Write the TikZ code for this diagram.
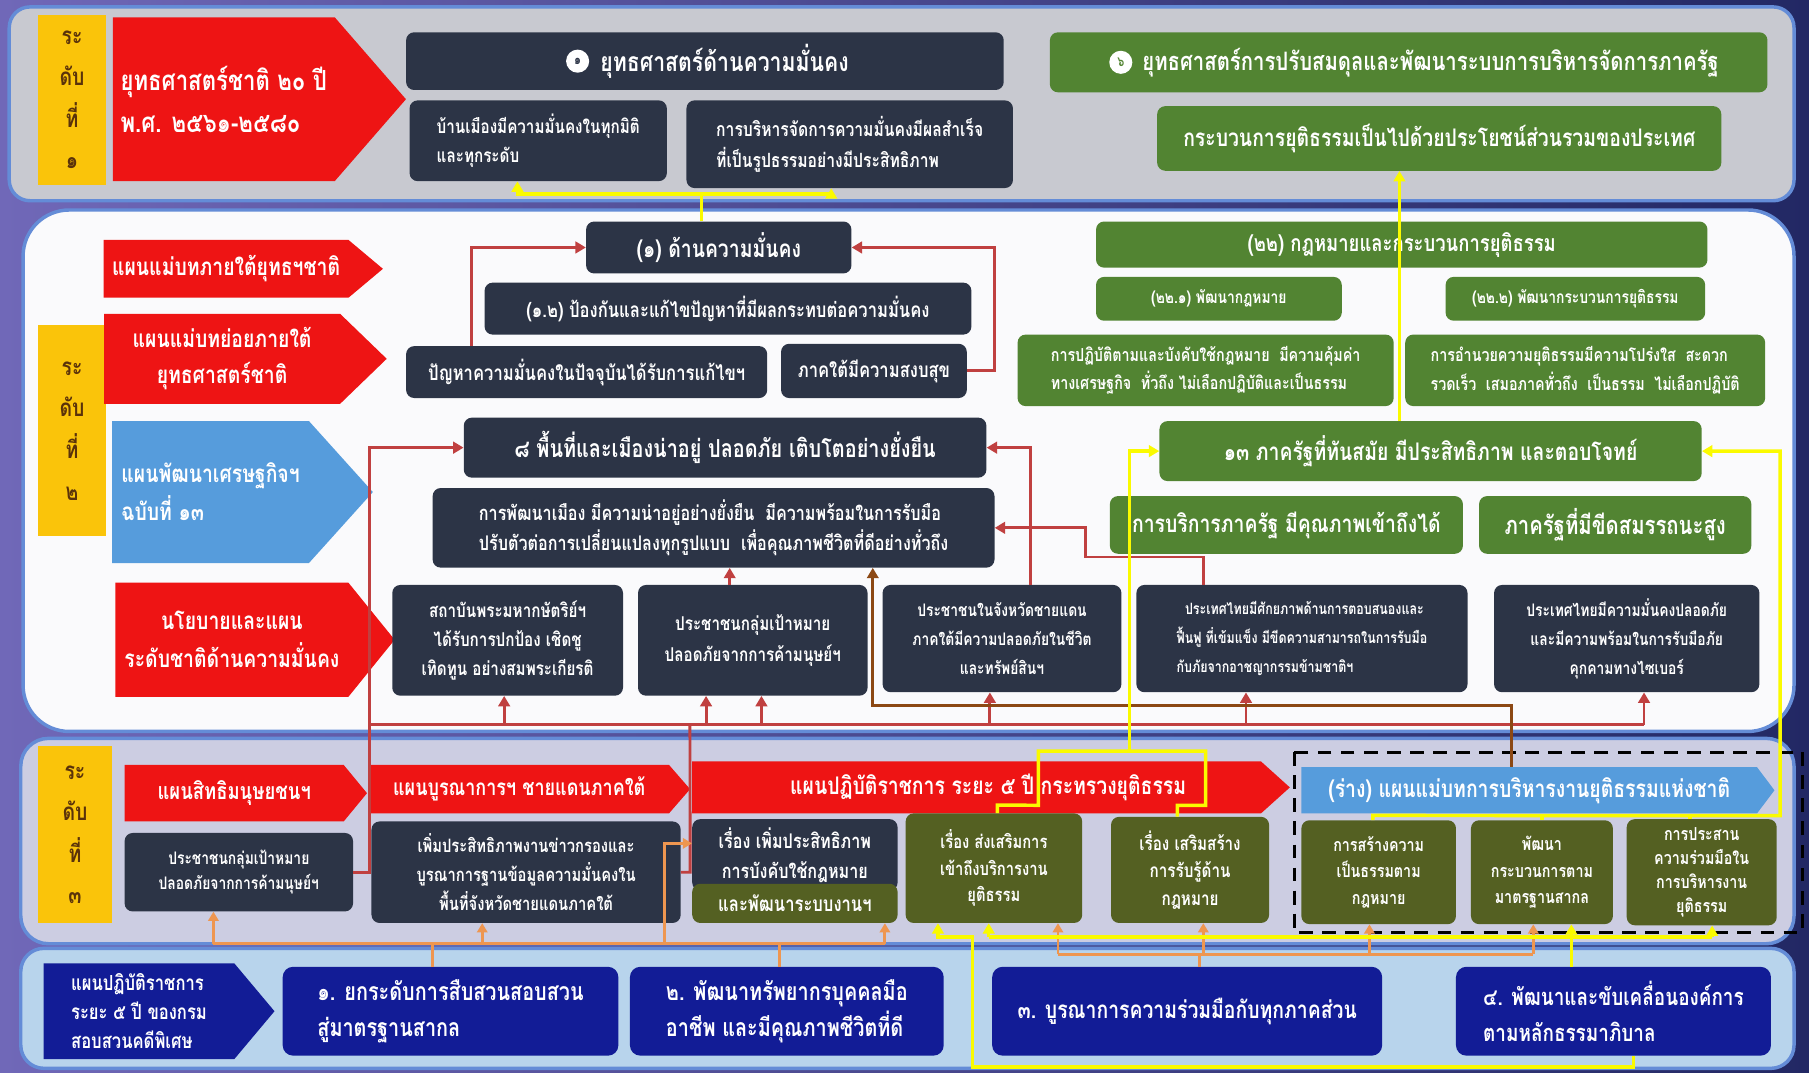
\documentclass[tikz,border=0pt]{standalone}
\usepackage{fontspec}
\setmainfont{Loma}[Script=Thai, FakeStretch=0.8]
\usetikzlibrary{shapes.symbols, arrows.meta, positioning}

\definecolor{bgleft}{RGB}{112,104,184}
\definecolor{bgright}{RGB}{34,40,100}
\definecolor{panelgray}{RGB}{200,201,208}
\definecolor{panelwhite}{RGB}{250,250,252}
\definecolor{panellav}{RGB}{204,205,226}
\definecolor{panelblue}{RGB}{184,212,236}
\definecolor{panelrim}{RGB}{100,140,215}
\definecolor{boxdark}{RGB}{44,52,70}
\definecolor{boxgreen}{RGB}{82,132,50}
\definecolor{boxolive}{RGB}{84,96,34}
\definecolor{arrowred}{RGB}{238,20,20}
\definecolor{arrowsky}{RGB}{86,156,220}
\definecolor{boxnavy}{RGB}{18,28,150}
\definecolor{labelgold}{RGB}{250,196,10}
\definecolor{labeltext}{RGB}{90,50,10}
\definecolor{linered}{RGB}{192,64,64}
\definecolor{linebrown}{RGB}{140,72,20}
\definecolor{lineorange}{RGB}{238,150,80}
\definecolor{lineyellow}{RGB}{250,250,0}

\newcommand{\tsize}[2]{\fontsize{#1}{#2}\selectfont\bfseries}

\tikzset{
  panel/.style={draw=panelrim, line width=3pt},
  darkbox/.style={rounded corners=7pt, fill=boxdark, text=white, align=center, inner sep=2pt},
  greenbox/.style={darkbox, fill=boxgreen},
  olivebox/.style={darkbox, fill=boxolive},
  navybox/.style={darkbox, fill=boxnavy, rounded corners=9pt},
  redtag/.style={signal, signal to=east, signal pointer angle=90, fill=arrowred, text=white, align=center, inner sep=2pt},
  skytag/.style={redtag, fill=arrowsky},
  levelbar/.style={fill=labelgold, text=labeltext, align=center, font=\tsize{21}{36}},
  iconball/.style={circle, fill=white, text=boxdark, inner sep=0pt, minimum size=20pt, font=\tsize{12}{12}},
  rline/.style={linered, line width=2.5pt},
  rarrow/.style={rline, -{Triangle[length=9pt,width=10pt]}},
  barrow/.style={linebrown, line width=2.5pt, -{Triangle[length=9pt,width=10pt]}},
  oline/.style={lineorange, line width=2.5pt},
  oarrow/.style={oline, -{Triangle[length=8pt,width=9pt]}},
  yline/.style={lineyellow, line width=3pt},
  yarrow/.style={yline, -{Triangle[length=9pt,width=10pt]}}
}

\begin{document}
\begin{tikzpicture}[x=1pt,y=-1pt]
\useasboundingbox (0,0) rectangle (1568,930);

% Background and panels
\shade[left color=bgleft, right color=bgright] (0,0) rectangle (1568,930);
\draw[panel, fill=panelgray, rounded corners=18pt] (8,6) rectangle (1555,174);
\draw[panel, fill=panelwhite, rounded corners=40pt] (20,182) rectangle (1555,634);
\draw[panel, fill=panellav, rounded corners=24pt] (18,640) rectangle (1555,818);
\draw[panel, fill=panelblue, rounded corners=20pt] (18,822) rectangle (1555,926);

% Level 1
\node[levelbar, minimum width=59, minimum height=147] (lvA) at (62.5,86.5) {ระ\\ดับ\\ที่\\๑};
\node[redtag, signal pointer angle=98, minimum width=254, minimum height=142, align=left, font=\tsize{24}{36}] (nat20) at (194,86) {ยุทธศาสตร์ชาติ ๒๐ ปี\\พ.ศ. ๒๕๖๑-๒๕๘๐};
\node[darkbox, minimum width=518, minimum height=50] (secT) at (611,53) {};
\node[text=white, font=\tsize{23}{24}] (secTt) at (628,53) {ยุทธศาสตร์ด้านความมั่นคง};
\node[iconball, left=6pt of secTt] (ic1) {๑};
\node[darkbox, minimum width=223, minimum height=70, align=left, font=\tsize{16.5}{25}] (secA) at (466.5,122) {บ้านเมืองมีความมั่นคงในทุกมิติ\\และทุกระดับ};
\node[darkbox, minimum width=283, minimum height=76, align=left, font=\tsize{17}{27}] (secB) at (736.5,125) {การบริหารจัดการความมั่นคงมีผลสำเร็จ\\ที่เป็นรูปธรรมอย่างมีประสิทธิภาพ};
\node[greenbox, minimum width=622, minimum height=52] (govT) at (1221,54) {};
\node[text=white, font=\tsize{22}{24}] (govTt) at (1240,54) {ยุทธศาสตร์การปรับสมดุลและพัฒนาระบบการบริหารจัดการภาครัฐ};
\node[iconball, text=boxgreen, left=5pt of govTt] (ic6) {๖};
\node[greenbox, minimum width=489, minimum height=56, font=\tsize{21}{24}] (govA) at (1247.5,120) {กระบวนการยุติธรรมเป็นไปด้วยประโยชน์ส่วนรวมของประเทศ};

% Level 2
\node[levelbar, minimum width=59, minimum height=183] (lvB) at (62.5,373.5) {ระ\\ดับ\\ที่\\๒};
\node[redtag, signal pointer angle=80, minimum width=242, minimum height=50, font=\tsize{21}{28}] (mp1) at (196,233) {แผนแม่บทภายใต้ยุทธฯชาติ};
\node[redtag, signal pointer angle=88, minimum width=245, minimum height=78, font=\tsize{21}{31}] (mp2) at (192.5,311) {แผนแม่บทย่อยภายใต้\\ยุทธศาสตร์ชาติ};
\node[skytag, signal pointer angle=96, minimum width=226, minimum height=123, align=left, font=\tsize{21}{33}] (nesdp) at (182.5,426.5) {แผนพัฒนาเศรษฐกิจฯ\\ฉบับที่ ๑๓};
\node[redtag, signal pointer angle=102, minimum width=242, minimum height=99, font=\tsize{21}{33}] (nsp) at (201,554.5) {นโยบายและแผน\\ระดับชาติด้านความมั่นคง};

\node[darkbox, minimum width=230, minimum height=45, font=\tsize{21}{24}] (sec1) at (623,214.5) {(๑) ด้านความมั่นคง};
\node[darkbox, minimum width=422, minimum height=45, font=\tsize{18}{24}] (sec12) at (631,267.5) {(๑.๒) ป้องกันและแก้ไขปัญหาที่มีผลกระทบต่อความมั่นคง};
\node[darkbox, minimum width=313, minimum height=45, font=\tsize{18}{24}] (secP) at (508.5,322.5) {ปัญหาความมั่นคงในปัจจุบันได้รับการแก้ไขฯ};
\node[darkbox, minimum width=161, minimum height=47, font=\tsize{18}{24}] (secS) at (757.5,321.5) {ภาคใต้มีความสงบสุข};
\node[darkbox, minimum width=453, minimum height=52, font=\tsize{21.5}{24}] (ms8) at (628.5,388) {๘ พื้นที่และเมืองน่าอยู่ ปลอดภัย เติบโตอย่างยั่งยืน};
\node[darkbox, minimum width=487, minimum height=69, align=left, font=\tsize{17.5}{26}] (ms8a) at (618.5,457.5) {การพัฒนาเมือง มีความน่าอยู่อย่างยั่งยืน\ \ มีความพร้อมในการรับมือ\\ปรับตัวต่อการเปลี่ยนแปลงทุกรูปแบบ\ \ เพื่อคุณภาพชีวิตที่ดีอย่างทั่วถึง};

\node[darkbox, minimum width=200, minimum height=96, font=\tsize{16.5}{25}] (tA) at (440,555) {สถาบันพระมหากษัตริย์ฯ\\ได้รับการปกป้อง เชิดชู\\เทิดทูน อย่างสมพระเกียรติ};
\node[darkbox, minimum width=199, minimum height=96, font=\tsize{16.5}{27}] (tB) at (652.5,555) {ประชาชนกลุ่มเป้าหมาย\\ปลอดภัยจากการค้ามนุษย์ฯ};
\node[darkbox, minimum width=207, minimum height=93, font=\tsize{15}{25}] (tC) at (868.5,553.5) {ประชาชนในจังหวัดชายแดน\\ภาคใต้มีความปลอดภัยในชีวิต\\และทรัพย์สินฯ};
\node[darkbox, minimum width=287, minimum height=93, align=left, font=\tsize{13.5}{25}] (tD) at (1128.5,553.5) {\ \ ประเทศไทยมีศักยภาพด้านการตอบสนองและ\\ฟื้นฟู ที่เข้มแข็ง มีขีดความสามารถในการรับมือ\\กับภัยจากอาชญากรรมข้ามชาติฯ};
\node[darkbox, minimum width=230, minimum height=93, font=\tsize{15}{25}] (tE) at (1410,553.5) {ประเทศไทยมีความมั่นคงปลอดภัย\\และมีความพร้อมในการรับมือภัย\\คุกคามทางไซเบอร์};

\node[greenbox, minimum width=530, minimum height=40, font=\tsize{20}{24}] (law22) at (1215,212) {(๒๒) กฎหมายและกระบวนการยุติธรรม};
\node[greenbox, minimum width=213, minimum height=38, font=\tsize{15}{24}] (law221) at (1056.5,259) {(๒๒.๑) พัฒนากฎหมาย};
\node[greenbox, minimum width=225, minimum height=38, font=\tsize{15}{24}] (law222) at (1365.5,259) {(๒๒.๒) พัฒนากระบวนการยุติธรรม};
\node[greenbox, minimum width=326, minimum height=62, align=left, font=\tsize{15.5}{25}] (lawA) at (1045,321) {การปฏิบัติตามและบังคับใช้กฎหมาย\ \ มีความคุ้มค่า\\ทางเศรษฐกิจ\ \ ทั่วถึง ไม่เลือกปฏิบัติและเป็นธรรม};
\node[greenbox, minimum width=312, minimum height=62, align=left, font=\tsize{15.5}{25}] (lawB) at (1374,321) {การอำนวยความยุติธรรมมีความโปร่งใส\ \ สะดวก\\รวดเร็ว\ \ เสมอภาคทั่วถึง\ \ เป็นธรรม\ \ ไม่เลือกปฏิบัติ};
\node[greenbox, minimum width=470, minimum height=52, font=\tsize{21}{24}] (ps13) at (1240,391) {๑๓ ภาครัฐที่ทันสมัย มีประสิทธิภาพ และตอบโจทย์};
\node[greenbox, minimum width=306, minimum height=50, font=\tsize{21}{24}] (ps13a) at (1115,455) {การบริการภาครัฐ มีคุณภาพเข้าถึงได้};
\node[greenbox, minimum width=236, minimum height=50, font=\tsize{22}{24}] (ps13b) at (1400,455) {ภาครัฐที่มีขีดสมรรถนะสูง};

% Level 3
\node[levelbar, minimum width=64, minimum height=153] (lvC) at (65,723.5) {ระ\\ดับ\\ที่\\๓};
\node[redtag, signal pointer angle=101, minimum width=210, minimum height=49, font=\tsize{20}{24}] (hr) at (203,687.5) {แผนสิทธิมนุษยชนฯ};
\node[redtag, signal pointer angle=98, minimum width=278, minimum height=42, font=\tsize{19.5}{24}] (sb) at (450,684) {แผนบูรณาการฯ ชายแดนภาคใต้};
\node[redtag, signal pointer angle=84, minimum width=518, minimum height=45, font=\tsize{21}{24}] (moj) at (846.5,682.5) {\hspace{20pt}แผนปฏิบัติราชการ ระยะ ๕ ปี กระทรวงยุติธรรม};
\node[skytag, signal pointer angle=106, minimum width=410, minimum height=40, font=\tsize{21}{24}] (draft) at (1325.5,685) {(ร่าง) แผนแม่บทการบริหารงานยุติธรรมแห่งชาติ};
\draw[black, line width=2.5pt, dash pattern=on 12pt off 8pt] (1122,652) rectangle (1562,808);

\node[darkbox, minimum width=198, minimum height=68, font=\tsize{15}{22}] (ha) at (207,756) {ประชาชนกลุ่มเป้าหมาย\\ปลอดภัยจากการค้ามนุษย์ฯ};
\node[darkbox, minimum width=268, minimum height=88, font=\tsize{16}{25}] (hb) at (456,756) {เพิ่มประสิทธิภาพงานข่าวกรองและ\\บูรณาการฐานข้อมูลความมั่นคงใน\\พื้นที่จังหวัดชายแดนภาคใต้};
\node[darkbox, minimum width=178, minimum height=62, font=\tsize{17.5}{26}] (hc) at (689,741) {เรื่อง เพิ่มประสิทธิภาพ\\การบังคับใช้กฎหมาย};
\node[olivebox, minimum width=178, minimum height=34, font=\tsize{18}{24}] (hc2) at (689,783) {และพัฒนาระบบงานฯ};
\node[olivebox, minimum width=153, minimum height=95, font=\tsize{16}{23}] (hd) at (861.5,752.5) {เรื่อง ส่งเสริมการ\\เข้าถึงบริการงาน\\ยุติธรรม};
\node[olivebox, minimum width=137, minimum height=92, font=\tsize{16.5}{24}] (he) at (1031.5,754) {เรื่อง เสริมสร้าง\\การรับรู้ด้าน\\กฎหมาย};
\node[olivebox, minimum width=134, minimum height=90, font=\tsize{15.5}{23}] (hf) at (1195,756) {การสร้างความ\\เป็นธรรมตาม\\กฎหมาย};
\node[olivebox, minimum width=123, minimum height=90, font=\tsize{15.5}{23}] (hg) at (1336.5,756) {พัฒนา\\กระบวนการตาม\\มาตรฐานสากล};
\node[olivebox, minimum width=130, minimum height=92, font=\tsize{15.5}{21}] (hh) at (1475,756) {การประสาน\\ความร่วมมือใน\\การบริหารงาน\\ยุติธรรม};

% Bottom level
\node[redtag, fill=boxnavy, signal pointer angle=100, minimum width=200, minimum height=83, align=left, font=\tsize{18}{25}] (dsi) at (120.5,876.5) {แผนปฏิบัติราชการ\\ระยะ ๕ ปี ของกรม\\สอบสวนคดีพิเศษ};
\node[navybox, minimum width=291, minimum height=77, align=left, font=\tsize{21.5}{31}] (b1) at (390.5,876.5) {๑. ยกระดับการสืบสวนสอบสวน\\สู่มาตรฐานสากล};
\node[navybox, minimum width=272, minimum height=77, align=left, font=\tsize{21.5}{31}] (b2) at (682,876.5) {๒. พัฒนาทรัพยากรบุคคลมือ\\อาชีพ และมีคุณภาพชีวิตที่ดี};
\node[navybox, minimum width=338, minimum height=77, font=\tsize{21}{31}] (b3) at (1029,876.5) {๓. บูรณาการความร่วมมือกับทุกภาคส่วน};
\node[navybox, minimum width=273, minimum height=77, align=left, font=\tsize{20.5}{31}] (b4) at (1398.5,876.5) {๔. พัฒนาและขับเคลื่อนองค์การ\\ตามหลักธรรมาภิบาล};

% Yellow links, level 1
\coordinate (j1) at (608,168);
\draw[yline] ([xshift=-15pt]sec1.north) -- (j1);
\draw[yarrow] (j1) -| ([xshift=-18pt]secA.south);
\draw[yarrow] (j1) -| ([xshift=-16pt]secB.south);
\coordinate (y13) at ([xshift=-27pt]ps13.north);
\draw[yarrow] (y13) -- (y13 |- govA.south);

% Red links, level 2
\draw[rarrow] ([xshift=-100pt]secP.north) |- (sec1.west);
\draw[rarrow] (secS.east) -- ++(24,0) |- (sec1.east);
\draw[rarrow] (ha.east) -- ++(14,0) |- (ms8.west);
\draw[rline] (hb.east) -- ++(8,0) -- (598,628);
\draw[rline] (320,628) -- (1425,628);
\foreach \x/\t in {437/tA, 612/tB, 660/tB, 858/tC, 1080/tD, 1425/tE}
  \draw[rarrow] (\x,628) -- (\t.south -| \x,0);
\draw[rarrow] ([xshift=25pt]tC.north) |- (ms8.east);
\draw[rarrow] ([xshift=-85pt]tD.north) -- ++(0,-24) -- ++(-103,0) |- (ms8a.east);
\draw[rarrow] ([xshift=-20pt]tB.north) -- ([xshift=14pt]ms8a.south);
\draw[barrow] ([xshift=-15.5pt]draft.north) -- ++(0,-53) -| ([xshift=138pt]ms8a.south);

% Yellow links, level 3 to level 2
\draw[yline] ([xshift=3pt]hd.north) -- ++(0,-7) -- (900,698) -- (900,651) -- (1045,651) -- (1045,698) -- ([xshift=-11pt]he.north |- 0,698) -- ([xshift=-11pt]he.north);
\draw[yarrow] (979,651) |- (ps13.west);
\draw[yarrow] ([xshift=-5pt]hf.north) -- ++(0,-4) -- (1543,707) |- (ps13.east);
\draw[yline] (hg.north) -- ++(0,-4);
\draw[yline] ([xshift=-10pt]hh.north) -- ++(0,-4);

% Orange links, bottom to level 3
\draw[oline] (185,818) -- (767,818);
\draw[oline] (b1.north -| 375,0) -- (375,818);
\draw[oline] (b2.north -| 676,0) -- (676,818);
\draw[oarrow] (185,818) -- (ha.south -| 185,0);
\draw[oarrow] (418,818) -- (hb.south -| 418,0);
\draw[oarrow] (767,818) -- (hc2.south -| 767,0);
\draw[oarrow] (576,818) |- ([yshift=10pt]hc.west);
\draw[oline] (917,827) -- (1329,827);
\draw[oline] (b3.north -| 1040,0) -- (1040,827);
\foreach \x/\t in {917/hd, 1043/he, 1187/hf, 1329/hg}
  \draw[oarrow] (\x,827) -- (\t.south -| \x,0);

% Yellow links, bottom to level 3
\draw[yarrow] ([xshift=17.5pt]b4.south) -- (1416,925) -- (843,925) -- (843,812) -| ([xshift=-48.5pt]hd.south);
\draw[yline] (857,812) -- (1484,812);
\draw[yarrow] (b4.north -| 1362,0) -- (hg.south -| 1362,0);
\draw[yarrow] (857,812) -- (hd.south -| 857,0);
\draw[yarrow] (1484,812) -- (hh.south -| 1484,0);
\end{tikzpicture}
\end{document}
